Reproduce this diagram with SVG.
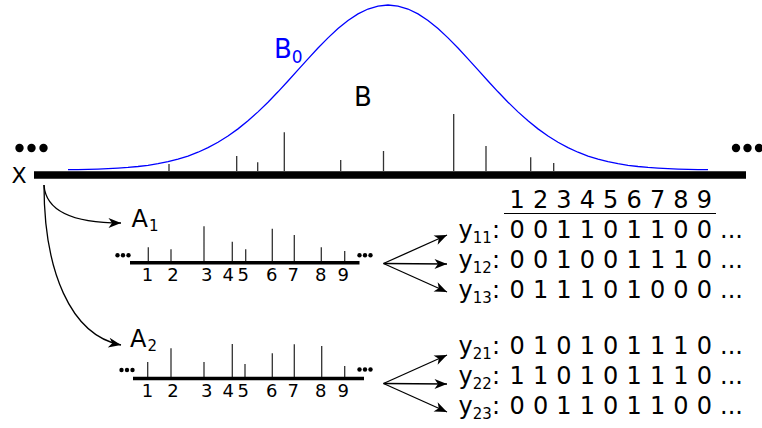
<svg xmlns="http://www.w3.org/2000/svg" width="762" height="428" viewBox="0 0 762 428">
<style>
text{font-family:"DejaVu Sans","Liberation Sans",sans-serif;fill:#000}
.big{font-size:24px;word-spacing:0.5px}
.sub{font-size:15px}
.tick{font-size:18px;text-anchor:middle}
.spk{stroke:#333;stroke-width:1.3}
.axis{stroke:#000}
.con{fill:none;stroke:#000;stroke-width:1.3}
.dot{fill:#000}
</style>
<defs>
<marker id="ah" markerUnits="userSpaceOnUse" markerWidth="16" markerHeight="12" viewBox="-13 -6 16 12" refX="0" refY="0" orient="auto">
<path d="M0,0 L-12.5,-5 L-9,0 L-12.5,5 Z" fill="#000"/>
</marker>
</defs>
<rect width="762" height="428" fill="#fff"/>

<g id="main-axis">
<path class="spk" d="M169,171V164 M236.7,171V156 M257.7,171V162.3 M284.3,171V132.3 M340.7,171V160 M383.5,171V151 M453.7,171V114 M486,171V146 M530.7,171V157.3 M553.7,171V163"/>
<line class="axis" x1="34" y1="175" x2="746" y2="175" stroke-width="7.5"/>
<circle class="dot" cx="19.5" cy="148" r="4.2"/><circle class="dot" cx="31.5" cy="148" r="4.2"/><circle class="dot" cx="43.5" cy="148" r="4.2"/>
<circle class="dot" cx="736" cy="148" r="4.2"/><circle class="dot" cx="747.5" cy="148" r="4.2"/><circle class="dot" cx="759" cy="148" r="4.2"/>
<text x="11.5" y="183" font-size="22">X</text>
</g>

<g id="prior-B0">
<polyline fill="none" stroke="#0000ff" stroke-width="1.3" points="68,169.70 78,169.56 88,169.36 98,169.08 108,168.69 118,168.17 128,167.46 138,166.52 148,165.29 158,163.70 168,161.68 178,159.15 188,156.03 198,152.23 208,147.67 218,142.28 228,136.02 238,128.86 248,120.79 258,111.87 268,102.17 278,91.82 288,81.00 298,69.92 308,58.85 318,48.07 328,37.88 338,28.60 348,20.52 358,13.92 368,9.02 378,6.02 388,5 398,6.02 408,9.02 418,13.92 428,20.52 438,28.60 448,37.88 458,48.07 468,58.85 478,69.92 488,81.00 498,91.82 508,102.17 518,111.87 528,120.79 538,128.86 548,136.02 558,142.28 568,147.67 578,152.23 588,156.03 598,159.15 608,161.68 618,163.70 628,165.29 638,166.52 648,167.46 658,168.17 668,168.69 678,169.08 688,169.36 698,169.56 708,169.70"/>
<text x="274" y="58" font-size="26" style="fill:#0000ff">B<tspan font-size="17" dy="5">0</tspan></text>
</g>

<g id="label-B">
<text x="354" y="106" font-size="26">B</text>
</g>

<g id="A1">
<text x="131.5" y="226.5" font-size="24">A<tspan font-size="15" dy="4" dx="1">1</tspan></text>
<path class="spk" d="M148.3,261V247.3 M171,261V249.3 M204,261V226.3 M232.3,261V241.7 M245.7,261V249.3 M272.3,261V228.7 M294.3,261V235 M321.3,261V247.3 M344.7,261V251"/>
<line class="axis" x1="130" y1="262.7" x2="359.5" y2="262.7" stroke-width="3.6"/>
<circle class="dot" cx="117.5" cy="255.3" r="2.2"/><circle class="dot" cx="123" cy="255.3" r="2.2"/><circle class="dot" cx="128.5" cy="255.3" r="2.2"/>
<circle class="dot" cx="359.5" cy="255.3" r="2.2"/><circle class="dot" cx="365" cy="255.3" r="2.2"/><circle class="dot" cx="370.5" cy="255.3" r="2.2"/>
<text class="tick" x="147.5" y="281">1</text><text class="tick" x="173" y="281">2</text><text class="tick" x="206.7" y="281">3</text><text class="tick" x="228.3" y="281">4</text><text class="tick" x="243.3" y="281">5</text><text class="tick" x="271.7" y="281">6</text><text class="tick" x="293.3" y="281">7</text><text class="tick" x="320.7" y="281">8</text><text class="tick" x="343.3" y="281">9</text>
</g>

<g id="A2">
<text x="130" y="346.5" font-size="24">A<tspan font-size="15" dy="4" dx="1">2</tspan></text>
<path class="spk" d="M147.7,377V362 M171,377V348.3 M204,377V362 M232.3,377V344 M245,377V364 M272.3,377V353.3 M294.3,377V344.3 M321.7,377V346 M344.7,377V366"/>
<line class="axis" x1="133" y1="378.5" x2="364" y2="378.5" stroke-width="3.6"/>
<circle class="dot" cx="121.5" cy="370" r="2.2"/><circle class="dot" cx="127" cy="370" r="2.2"/><circle class="dot" cx="132.5" cy="370" r="2.2"/>
<circle class="dot" cx="359.5" cy="369.5" r="2.2"/><circle class="dot" cx="365" cy="369.5" r="2.2"/><circle class="dot" cx="370.5" cy="369.5" r="2.2"/>
<text class="tick" x="147.5" y="397">1</text><text class="tick" x="173" y="397">2</text><text class="tick" x="206.7" y="397">3</text><text class="tick" x="228.3" y="397">4</text><text class="tick" x="243.3" y="397">5</text><text class="tick" x="271.7" y="397">6</text><text class="tick" x="293.3" y="397">7</text><text class="tick" x="320.7" y="397">8</text><text class="tick" x="343.3" y="397">9</text>
</g>

<g id="table1">
<text class="big" x="509.5" y="208">1 2 3 4 5 6 7 8 9</text>
<line x1="504" y1="213.5" x2="716" y2="213.5" stroke="#000" stroke-width="1.2"/>
<text class="big" x="458.6" y="238">y<tspan class="sub" dy="5">11</tspan><tspan dy="-5">:</tspan></text>
<text class="big" x="509.5" y="238">0 0 1 1 0 1 1 0 0 ...</text>
<text class="big" x="458.6" y="268">y<tspan class="sub" dy="5">12</tspan><tspan dy="-5">:</tspan></text>
<text class="big" x="509.5" y="268">0 0 1 0 0 1 1 1 0 ...</text>
<text class="big" x="458.6" y="298">y<tspan class="sub" dy="5">13</tspan><tspan dy="-5">:</tspan></text>
<text class="big" x="509.5" y="298">0 1 1 1 0 1 0 0 0 ...</text>
</g>

<g id="table2">
<text class="big" x="458.6" y="354">y<tspan class="sub" dy="5">21</tspan><tspan dy="-5">:</tspan></text>
<text class="big" x="509.5" y="354">0 1 0 1 0 1 1 1 0 ...</text>
<text class="big" x="458.6" y="384">y<tspan class="sub" dy="5">22</tspan><tspan dy="-5">:</tspan></text>
<text class="big" x="509.5" y="384">1 1 0 1 0 1 1 1 0 ...</text>
<text class="big" x="458.6" y="414">y<tspan class="sub" dy="5">23</tspan><tspan dy="-5">:</tspan></text>
<text class="big" x="509.5" y="414">0 0 1 1 0 1 1 0 0 ...</text>
</g>

<g id="connectors">
<path class="con" marker-end="url(#ah)" d="M44,185 C46,215 80,223 121,223"/>
<path class="con" marker-end="url(#ah)" d="M44,185 C44,270 70,335 121,345"/>
<path class="con" marker-end="url(#ah)" d="M383.5,263.5 L447,235"/>
<path class="con" marker-end="url(#ah)" d="M383.5,263.5 L447,264"/>
<path class="con" marker-end="url(#ah)" d="M383.5,263.5 L447,292"/>
<path class="con" marker-end="url(#ah)" d="M383.5,383.5 L447,355"/>
<path class="con" marker-end="url(#ah)" d="M383.5,383.5 L447,384"/>
<path class="con" marker-end="url(#ah)" d="M383.5,383.5 L447,412"/>
</g>
</svg>
